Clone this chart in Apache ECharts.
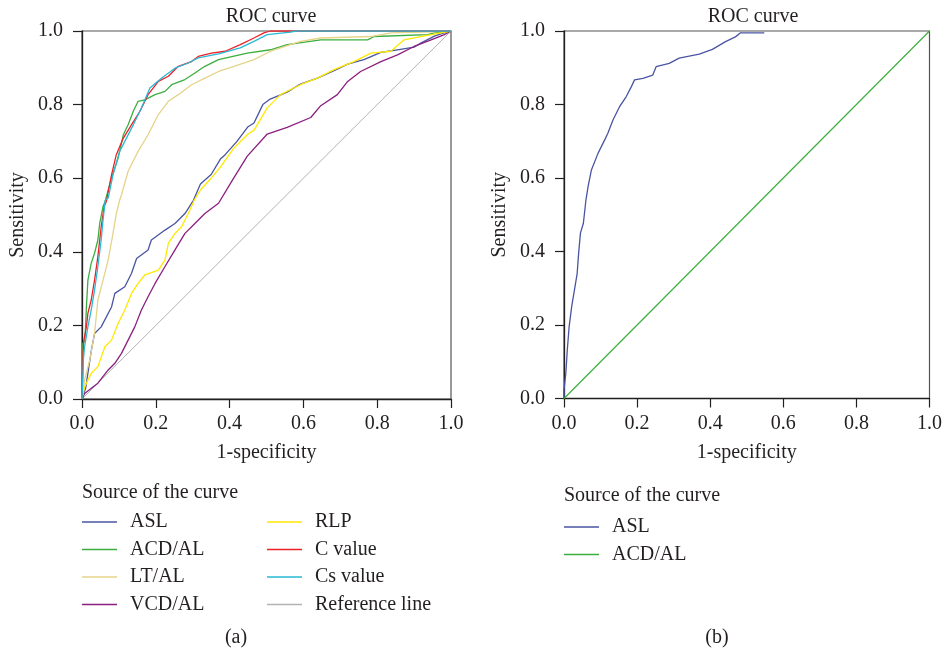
<!DOCTYPE html>
<html>
<head>
<meta charset="utf-8">
<script src="https://cdn.jsdelivr.net/npm/echarts@6/dist/echarts.min.js"></script>
<style>
  html, body { margin: 0; padding: 0; background: #fff; }
  #chart { width: 945px; height: 654px; }
</style>
</head>
<body>
<div id="chart"></div>
<script>
// panel (a) curves, [1-specificity, sensitivity]
const aslA = [[0,0],[0.01,0.03],[0.016,0.07],[0.025,0.13],[0.034,0.178],[0.052,0.196],[0.08,0.25],[0.089,0.287],[0.116,0.305],[0.134,0.341],[0.148,0.382],[0.179,0.405],[0.188,0.432],[0.225,0.459],[0.252,0.477],[0.279,0.504],[0.302,0.54],[0.321,0.584],[0.35,0.61],[0.375,0.652],[0.388,0.664],[0.42,0.7],[0.45,0.74],[0.466,0.75],[0.49,0.8],[0.51,0.815],[0.556,0.834],[0.592,0.856],[0.638,0.872],[0.683,0.892],[0.72,0.91],[0.764,0.922],[0.81,0.942],[0.855,0.949],[0.9,0.956],[0.918,0.967],[0.955,0.986],[0.991,0.998],[1,1]];
const acdA = [[0,0],[0.002,0.15],[0.008,0.16],[0.012,0.251],[0.016,0.323],[0.025,0.369],[0.034,0.396],[0.043,0.432],[0.048,0.477],[0.057,0.523],[0.062,0.535],[0.08,0.601],[0.098,0.655],[0.112,0.718],[0.125,0.745],[0.139,0.782],[0.152,0.809],[0.17,0.813],[0.198,0.827],[0.225,0.836],[0.243,0.854],[0.279,0.868],[0.306,0.886],[0.333,0.904],[0.37,0.922],[0.448,0.94],[0.511,0.949],[0.556,0.963],[0.647,0.976],[0.774,0.976],[0.792,0.985],[0.937,0.99],[0.955,0.995],[1,1]];
const ltA = [[0,0],[0.007,0.052],[0.021,0.106],[0.034,0.178],[0.043,0.269],[0.057,0.323],[0.071,0.378],[0.084,0.45],[0.093,0.504],[0.102,0.54],[0.107,0.555],[0.125,0.619],[0.152,0.673],[0.179,0.718],[0.207,0.773],[0.234,0.809],[0.261,0.827],[0.297,0.854],[0.333,0.872],[0.37,0.89],[0.41,0.903],[0.466,0.922],[0.511,0.945],[0.592,0.972],[0.647,0.981],[0.783,0.985],[0.837,0.995],[0.955,0.998],[1,1]];
const vcdA = [[0,0],[0.007,0.015],[0.043,0.043],[0.071,0.079],[0.089,0.097],[0.107,0.124],[0.125,0.16],[0.143,0.196],[0.161,0.242],[0.179,0.278],[0.198,0.314],[0.225,0.36],[0.252,0.405],[0.279,0.45],[0.306,0.477],[0.333,0.504],[0.37,0.532],[0.411,0.6],[0.448,0.66],[0.502,0.72],[0.556,0.738],[0.62,0.765],[0.647,0.797],[0.692,0.827],[0.72,0.863],[0.755,0.89],[0.81,0.917],[0.855,0.935],[0.9,0.958],[0.946,0.976],[0.982,0.99],[1,1]];
const rlpA = [[0,0],[0.007,0.033],[0.025,0.07],[0.043,0.088],[0.062,0.142],[0.08,0.16],[0.098,0.206],[0.116,0.242],[0.134,0.287],[0.152,0.314],[0.17,0.337],[0.207,0.35],[0.225,0.378],[0.234,0.423],[0.252,0.45],[0.27,0.468],[0.288,0.504],[0.304,0.54],[0.321,0.568],[0.35,0.6],[0.375,0.63],[0.41,0.68],[0.45,0.72],[0.466,0.73],[0.502,0.791],[0.538,0.827],[0.592,0.854],[0.638,0.872],[0.683,0.895],[0.737,0.917],[0.783,0.94],[0.837,0.945],[0.873,0.976],[0.918,0.985],[0.973,0.995],[1,1]];
const cA = [[0,0],[0.003,0.13],[0.005,0.16],[0.012,0.196],[0.016,0.233],[0.025,0.269],[0.034,0.323],[0.043,0.387],[0.048,0.432],[0.052,0.468],[0.06,0.523],[0.066,0.537],[0.08,0.609],[0.093,0.664],[0.112,0.709],[0.134,0.745],[0.157,0.782],[0.179,0.827],[0.207,0.863],[0.234,0.877],[0.261,0.904],[0.297,0.917],[0.315,0.931],[0.351,0.94],[0.388,0.945],[0.429,0.963],[0.466,0.981],[0.493,0.995],[0.51,1],[1,1]];
const csA = [[0,0],[0.004,0.11],[0.007,0.142],[0.016,0.196],[0.025,0.242],[0.034,0.296],[0.043,0.36],[0.052,0.432],[0.057,0.486],[0.063,0.54],[0.071,0.546],[0.084,0.609],[0.102,0.673],[0.116,0.7],[0.139,0.745],[0.161,0.791],[0.184,0.845],[0.216,0.872],[0.252,0.899],[0.288,0.913],[0.315,0.927],[0.37,0.938],[0.429,0.954],[0.466,0.972],[0.502,0.99],[0.565,0.997],[0.58,1],[1,1]];
const refLine = [[0,0],[1,1]];

// panel (b)
const aslB = [[0,0],[0,0.023],[0.005,0.068],[0.009,0.132],[0.014,0.195],[0.021,0.25],[0.03,0.304],[0.036,0.34],[0.04,0.395],[0.045,0.45],[0.053,0.477],[0.06,0.54],[0.066,0.577],[0.075,0.622],[0.093,0.667],[0.111,0.703],[0.12,0.722],[0.134,0.758],[0.152,0.794],[0.17,0.821],[0.184,0.848],[0.193,0.867],[0.216,0.871],[0.243,0.88],[0.252,0.903],[0.288,0.912],[0.315,0.926],[0.37,0.937],[0.406,0.95],[0.442,0.971],[0.469,0.984],[0.483,0.995],[0.548,0.995]];
const acdB = [[0,0],[1,1]];

const namesA = ['ASL', 'ACD/AL', 'LT/AL', 'VCD/AL', 'RLP', 'C value', 'Cs value', 'Reference line'];
const dataA = [aslA, acdA, ltA, vcdA, rlpA, cA, csA, refLine];
const colors = {
  'ASL': '#4a55a2',
  'ACD/AL': '#3cae3f',
  'LT/AL': '#e5d38a',
  'VCD/AL': '#8b1f7f',
  'RLP': '#ffe900',
  'C value': '#ec2227',
  'Cs value': '#29b9d6',
  'Reference line': '#b3b3b3'
};
const ticks = [0, 0.2, 0.4, 0.6, 0.8, 1.0];

const FONT = 'Liberation Serif';
const TXT = '#231f20';

const makeAxis = (i, isX) => ({
  type: 'value',
  gridIndex: i,
  min: 0,
  max: 1,
  interval: 0.2,
  name: isX ? '1-specificity' : 'Sensitivity',
  nameLocation: 'middle',
  nameGap: isX ? 44 : 54,
  nameTextStyle: { fontFamily: FONT, fontSize: 20, color: TXT },
  axisLine: { show: true, lineStyle: { color: '#231f20', width: 1.3 } },
  axisTick: { show: true, length: 9, lineStyle: { color: '#231f20', width: 1.2 } },
  axisLabel: {
    fontFamily: FONT, fontSize: 20, color: TXT,
    margin: isX ? 15 : 19,
    showMinLabel: true, showMaxLabel: true,
    formatter: v => v.toFixed(1)
  },
  splitLine: { show: false }
});

const series = [];
namesA.forEach((n, k) => {
  series.push({
    name: n,
    type: 'line',
    xAxisIndex: 0,
    yAxisIndex: 0,
    data: dataA[k],
    showSymbol: false,
    color: colors[n],
    lineStyle: { width: n === 'Reference line' ? 1 : 1.3, color: colors[n] },
    z: n === 'Reference line' ? 1 : 2 + k
  });
});
series.push({
  name: 'ASL', type: 'line', xAxisIndex: 1, yAxisIndex: 1, data: aslB,
  showSymbol: false, color: colors['ASL'], lineStyle: { width: 1.3, color: colors['ASL'] }
});
series.push({
  name: 'ACD/AL', type: 'line', xAxisIndex: 1, yAxisIndex: 1, data: acdB,
  showSymbol: false, color: colors['ACD/AL'], lineStyle: { width: 1.2, color: colors['ACD/AL'] }
});

const legendBase = {
  orient: 'vertical',
  selectedMode: false,
  icon: 'rect',
  itemWidth: 35,
  itemHeight: 1.5,
  itemGap: 7.5,
  padding: 0,
  textStyle: { fontFamily: FONT, fontSize: 20, color: TXT, lineHeight: 20, padding: [0, 0, 0, 8] }
};

const titleStyle = { fontFamily: FONT, fontSize: 20, fontWeight: 'normal', color: TXT };

const chart = echarts.init(document.getElementById('chart'), null, { renderer: 'canvas' });
chart.setOption({
  animation: false,
  backgroundColor: '#fff',
  title: [
    { text: 'ROC curve', left: 266, top: 2, textAlign: 'center', textStyle: titleStyle },
    { text: 'ROC curve', left: 748, top: 2, textAlign: 'center', textStyle: titleStyle },
    { text: 'Source of the curve', left: 82, top: 483, padding: 0, textStyle: titleStyle },
    { text: 'Source of the curve', left: 564, top: 486, padding: 0, textStyle: titleStyle },
    { text: '(a)', left: 236, top: 628, textAlign: 'center', padding: 0, textStyle: titleStyle },
    { text: '(b)', left: 717, top: 628, textAlign: 'center', padding: 0, textStyle: titleStyle }
  ],
  legend: [
    Object.assign({}, legendBase, { left: 82, top: 512, data: namesA.slice(0, 4) }),
    Object.assign({}, legendBase, { left: 267, top: 512, data: namesA.slice(4) }),
    Object.assign({}, legendBase, { left: 564, top: 517, data: ['ASL', 'ACD/AL'] })
  ],
  grid: [
    { left: 82, top: 31, width: 369, height: 368, show: true, borderColor: '#555', borderWidth: 1.2, backgroundColor: 'transparent' },
    { left: 564, top: 31, width: 368, height: 367.5, show: true, borderColor: '#555', borderWidth: 1.2, backgroundColor: 'transparent' }
  ],
  xAxis: [makeAxis(0, true), makeAxis(1, true)],
  yAxis: [makeAxis(0, false), makeAxis(1, false)],
  series: series
});
</script>
</body>
</html>
